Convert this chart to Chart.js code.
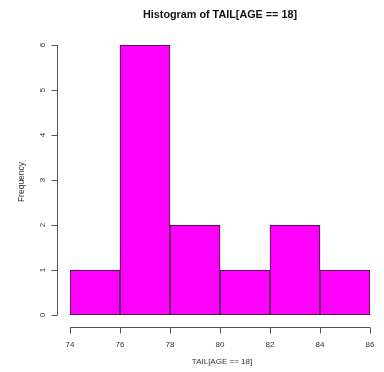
<!DOCTYPE html>
<html><head><meta charset="utf-8">
<script src="https://cdn.jsdelivr.net/npm/chart.js@4"></script>
<style>html,body{margin:0;padding:0;background:#fff}#wrap{width:384px;height:372px}</style>
</head><body><div id="wrap"><canvas id="c" width="384" height="372"></canvas></div>
<script>
const binStarts = [74, 76, 78, 80, 82, 84];
const binWidth = 2;
const counts = [1, 6, 2, 1, 2, 1];
const xTicks = [74, 76, 78, 80, 82, 84, 86];
const yTicks = [0, 1, 2, 3, 4, 5, 6];
const titleText = 'Histogram of TAIL[AGE == 18]';
const xTitle = 'TAIL[AGE == 18]';
const yTitle = 'Frequency';

const points = binStarts.map((s, i) => ({x: s + binWidth / 2, y: counts[i]}));

const rAxes = {
  id: 'rAxes',
  afterDraw(chart) {
    const ctx = chart.ctx, xs = chart.scales.x, ys = chart.scales.y;
    const axisCol = '#555';
    ctx.save();
    ctx.strokeStyle = axisCol; ctx.lineWidth = 1; ctx.fillStyle = '#333';
    // y axis
    const yAxX = 57.5;
    const y0 = ys.getPixelForValue(yTicks[0]), y1 = ys.getPixelForValue(yTicks[yTicks.length-1]);
    ctx.beginPath(); ctx.moveTo(yAxX, y0); ctx.lineTo(yAxX, y1);
    yTicks.forEach(t => { const p = Math.round(ys.getPixelForValue(t)) + 0.5; ctx.moveTo(yAxX, p); ctx.lineTo(yAxX - 6, p); });
    ctx.stroke();
    ctx.font = '8px "Liberation Sans", Arial, sans-serif';
    ctx.textAlign = 'center'; ctx.textBaseline = 'middle';
    yTicks.forEach(t => {
      const p = ys.getPixelForValue(t);
      ctx.save(); ctx.translate(43, p); ctx.rotate(-Math.PI/2); ctx.fillText(String(t), 0, 0); ctx.restore();
    });
    // x axis
    const xAxY = 327.5;
    const xa = xs.getPixelForValue(xTicks[0]), xb = xs.getPixelForValue(xTicks[xTicks.length-1]);
    ctx.beginPath(); ctx.moveTo(xa, xAxY); ctx.lineTo(xb, xAxY);
    xTicks.forEach(t => { const p = Math.round(xs.getPixelForValue(t)) + 0.5; ctx.moveTo(p, xAxY); ctx.lineTo(p, xAxY + 6); });
    ctx.stroke();
    xTicks.forEach(t => { ctx.fillText(String(t), xs.getPixelForValue(t), 345); });
    // titles
    const cx = (xs.left + xs.right) / 2;
    ctx.fillText(xTitle, cx + 2, 362);
    ctx.font = '8.5px "Liberation Sans", Arial, sans-serif';
    ctx.save(); ctx.translate(22, 182); ctx.rotate(-Math.PI/2); ctx.fillText(yTitle, 0, 0); ctx.restore();
    ctx.fillStyle = '#111';
    ctx.font = 'bold 10.8px "Liberation Sans", Arial, sans-serif';
    ctx.fillText(titleText, cx, 15);
    ctx.restore();
  }
};

new Chart(document.getElementById('c'), {
  type: 'bar',
  data: { datasets: [{
    data: points,
    backgroundColor: '#FF00FF',
    borderColor: '#222',
    borderWidth: 1,
    borderSkipped: false,
    barPercentage: 1,
    categoryPercentage: 1
  }]},
  options: {
    responsive: false, animation: false,
    layout: { padding: { left: 70, right: 14, top: 45, bottom: 57 } },
    plugins: { legend: { display: false }, tooltip: { enabled: false }, title: { display: false } },
    scales: {
      x: { type: 'linear', display: false, min: 74, max: 86, ticks: { stepSize: 2 }, offset: false },
      y: { type: 'linear', display: false, min: 0, max: 6, ticks: { stepSize: 1 } }
    }
  },
  plugins: [rAxes]
});
</script></body></html>
